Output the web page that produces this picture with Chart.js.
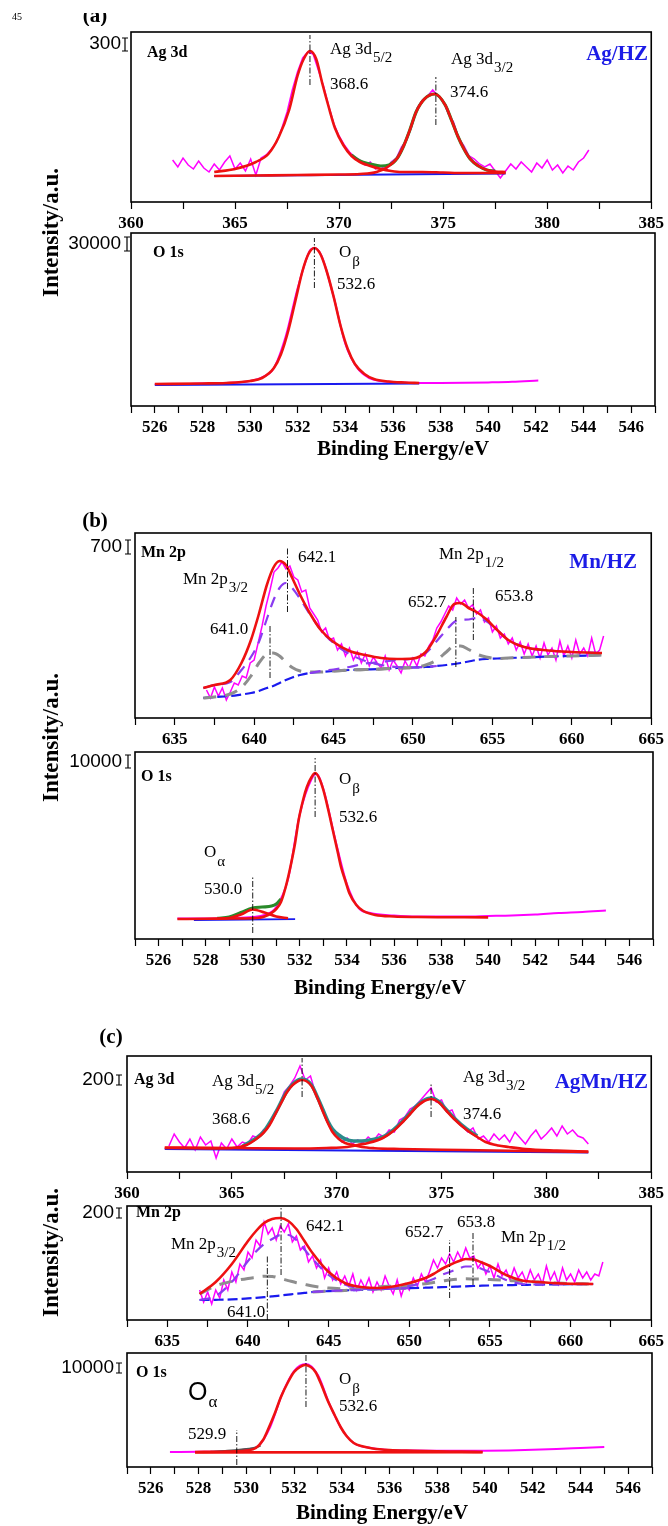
<!DOCTYPE html>
<html><head><meta charset="utf-8">
<script src="https://cdn.jsdelivr.net/npm/chart.js@4.4.1/dist/chart.umd.min.js"></script>
<style>
html,body{margin:0;padding:0;background:#fff;}
#page{position:relative;width:668px;height:1526px;overflow:hidden;background:#fff;}
#page canvas{position:absolute;left:0;}
.t{position:absolute;font-family:'Liberation Serif','Times New Roman',serif;color:#000;white-space:nowrap;line-height:1;text-align:center;}
</style></head><body><div id="page"></div>
<script>
// ---------------- DATA (binding energy in eV, intensity in arbitrary units) ----------------
const AG_RAW_X = [362,362.25,362.5,362.75,363,363.25,363.5,363.75,364,364.25,364.5,364.75,365,365.25,365.5,365.75,366,366.25,366.5,366.75,367,367.25,367.5,367.75,368,368.25,368.5,368.75,369,369.25,369.5,369.75,370,370.25,370.5,370.75,371,371.25,371.5,371.75,372,372.25,372.5,372.75,373,373.25,373.5,373.75,374,374.25,374.5,374.75,375,375.25,375.5,375.75,376,376.25,376.5,376.75,377,377.25,377.5,377.75,378,378.25,378.5,378.75,379,379.25,379.5,379.75,380,380.25,380.5,380.75,381,381.25,381.5,381.75,382];
const MN_RAW_X = [637,637.25,637.5,637.75,638,638.25,638.5,638.75,639,639.25,639.5,639.75,640,640.25,640.5,640.75,641,641.25,641.5,641.75,642,642.25,642.5,642.75,643,643.25,643.5,643.75,644,644.25,644.5,644.75,645,645.25,645.5,645.75,646,646.25,646.5,646.75,647,647.25,647.5,647.75,648,648.25,648.5,648.75,649,649.25,649.5,649.75,650,650.25,650.5,650.75,651,651.25,651.5,651.75,652,652.25,652.5,652.75,653,653.25,653.5,653.75,654,654.25,654.5,654.75,655,655.25,655.5,655.75,656,656.25,656.5,656.75,657,657.25,657.5,657.75,658,658.25,658.5,658.75,659,659.25,659.5,659.75,660,660.25,660.5,660.75,661,661.25,661.5,661.75,662];

// (a) Ag/HZ  Ag 3d
const A1_RAW_Y = [42,35,44,37,33,41,34,30,38,32,40,46,33,39,31,43,27,44,47,53,60,74,90,112,130,144,150,148,132,116,96,78,66,57,50,45,42,37,40,33,36,32,40,44,55,62,76,94,102,106,112,106,101,88,80,64,56,46,43,38,35,38,31,24,31,38,33,40,35,30,39,34,42,32,37,29,36,32,40,44,52];
const A1_COMP1 = [[364,30],[365,33],[366,40],[366.6,48],[367.1,65],[367.6,92],[368,126],[368.3,143],[368.6,151],[368.9,143],[369.2,118],[369.5,95],[369.8,74],[370.2,57],[370.6,46],[371,40],[371.5,36],[372,33],[372.5,31],[373,30],[374,30],[375,29.5],[376,29],[377,29],[378,29]];
const A1_COMP2 = [[364,26],[366,26.5],[368,27],[370,27.5],[371,28],[371.8,30],[372.4,36],[372.8,44],[373.1,56],[373.4,72],[373.7,90],[374.1,103],[374.6,108],[375.1,97],[375.4,82],[375.7,66],[376,53],[376.3,43],[376.7,36],[377.1,32],[377.5,30.5],[378,30]];
const A1_SUM = [[370.6,47],[371,41],[371.5,38],[372,36],[372.4,37],[372.8,44],[373.1,56],[373.4,72],[373.7,90],[374.1,103],[374.6,108],[375.1,97],[375.4,82],[375.7,66],[376,53],[376.3,43],[376.7,36],[377.1,32],[377.5,31]];
const A1_BASE = [[364,26],[378,28.5]];
const A1_MARK_X = [368.6, 374.65];
const A1_MARK_Y = [[117,167],[77,125]];

// (a) Ag/HZ  O 1s
const A2_RAW = [[526,22],[527,22],[528,22.5],[529,23],[530,25],[530.5,28.5],[531,38],[531.5,70],[532,118],[532.5,155],[532.7,158],[533,150],[533.5,110],[534,62],[534.5,38],[535,28],[535.5,25],[536,24],[537,23],[538,23],[539,23.2],[540,23.6],[541,24.2],[542.1,25.5]];
const A2_FIT = [[526,22],[528,22.5],[529,23],[530,25],[530.5,28],[531,38],[531.3,52],[531.6,75],[531.9,105],[532.2,135],[532.45,152],[532.7,158],[532.95,152],[533.2,136],[533.5,110],[533.8,80],[534.1,57],[534.4,42],[534.8,32],[535.2,27],[535.8,24.5],[536.5,23.5],[537.1,23]];
const A2_BASE = [[526,21],[537.1,22.5]];
const A2_MARK_X = [532.7];
const A2_MARK_Y = [[118,168]];

// (b) Mn/HZ  Mn 2p
const B1_RAW_Y = [28,20,31,22,30,18,26,35,33,42,40,55,58,75,92,112,128,146,150,156,149,152,141,138,126,128,110,104,98,86,90,78,80,68,74,62,70,58,66,55,64,52,61,55,50,62,48,58,52,45,57,50,60,52,64,62,72,78,90,96,104,112,108,120,114,118,110,113,104,108,96,100,86,92,80,84,74,80,68,76,64,74,62,72,60,75,63,70,58,77,62,72,60,78,64,70,62,80,64,68,82];
const B1_GRID = [636.8,637.5,638.5,639.2,639.8,640.3,640.8,641.2,641.6,642.0,642.4,642.9,643.5,644.2,645,646,647,648,649,650,650.8,651.5,652.1,652.6,653.0,653.5,654.0,654.6,655.3,656,657,658.5,660,661.9];
const B1_BASE_Y = [20,21,22,23.5,25,27,30,32,35,38,40.5,43,45,46,47,48,48.5,49,50,50.5,51,52,53,54,55,56.5,58,59,59.5,60,60.5,61.5,62,63];
const B1_FIT_Y = [30,33,38,55,78,104,133,150,157,153,140,123,105,88,76,67,63,60,59,59.5,66,83,101,114,115,110,106,99,88,78,71,67.5,66,65];
const B1_P1_Y = [30,33,36,48,61,76,99,117,130,135,130,119,104,88,75,64,57,53,51,50.5,51,52,null,null,null,null,null,null,null,null,null,null,null,null];
const B1_G1_Y = [20,21,24,30.5,42,55,64,65,62,56,50.5,47,46,46,47,48,48.5,49,50,50.5,null,null,null,null,null,null,null,null,null,null,null,null,null,null];
const B1_P2_Y = [null,null,null,null,null,null,null,null,null,null,null,null,45,47,48.5,51,54.5,56,58,59.5,65,77,88,96,98,98.5,100,97,88,78,71,67.5,66,65];
const B1_G2_Y = [null,null,null,null,null,null,null,null,null,null,null,null,null,null,47,48,48.5,49,50,50.5,53,58,66,72,72,68.5,64,61,59.5,60,60.5,61.5,62,63];
const B1_MARK_X = [641.0, 642.1, 652.7, 653.8];
const B1_MARK_Y = [[40,93],[106,171],[51,101],[78,131]];

// (b) Mn/HZ  O 1s
const B2_RAW = [[526.8,20.5],[528,20.5],[529,21],[530,22],[530.5,24],[531,32],[531.5,60],[532,125],[532.5,160],[532.7,165],[533,150],[533.5,100],[534,55],[534.5,31],[535,26],[536,23.5],[537,22.5],[538,22.5],[539,22.5],[540,23],[541,23.5],[542,24.5],[543,26],[544,27],[545,28.5]];
const B2_FIT = [[526.8,20],[528,20.2],[529,20.5],[530,20.8],[530.5,22.5],[531,30],[531.2,37],[531.4,52],[531.6,72],[531.8,96],[531.95,119],[532.15,140],[532.3,152],[532.5,162],[532.65,166],[532.8,162],[533,149],[533.2,130],[533.4,109],[533.6,88],[533.75,72],[533.95,57],[534.1,46],[534.4,34],[534.7,28],[535.2,24],[536,22.5],[537,22],[538,21.8],[539,21.7],[540,21.6]];
const B2_ALPHA = [[528.5,20.3],[529,21],[529.5,24.5],[530,29.5],[530.5,26.5],[531,22.5],[531.5,20.8]];
const B2_SUM = [[528.5,20.6],[529,22],[529.5,26.5],[530,31],[530.4,32],[530.8,33],[531,35],[531.2,40]];
const B2_BASE = [[527.5,19],[531.8,19.8]];
const B2_MARK_X = [530.0, 532.65];
const B2_MARK_Y = [[6,62],[122,181]];

// (c) AgMn/HZ  Ag 3d
const C1_RAW_Y = [26,38,30,24,33,22,35,27,31,14,29,23,33,25,30,28,36,34,42,46,58,66,80,86,94,106,92,96,78,68,52,44,38,30,34,28,32,29,35,31,38,35,42,40,52,55,63,66,72,78,84,70,72,60,62,50,46,40,44,33,36,30,38,32,37,30,40,34,28,36,42,33,38,44,36,46,38,42,36,34,28];
const C1_COMP1 = [[361.8,24],[363,23.8],[364,23.6],[365,24],[365.7,27],[366.1,32],[366.5,39],[366.8,47],[367.1,59],[367.4,71],[367.6,79],[367.9,87],[368.35,92],[368.8,86],[369.1,73],[369.35,60],[369.6,48],[369.8,40],[370.1,33],[370.4,29],[370.8,27],[371.2,25],[371.8,23.8],[373,23],[376,22],[379,21],[382,20]];
const C1_COMP2 = [[361.8,24.5],[365,24],[368,23.5],[369.5,24],[370.5,25],[371,27],[371.5,29],[372.2,34],[372.7,41],[373.1,49],[373.5,58],[373.8,65],[374.1,70],[374.5,73],[374.9,69],[375.2,62],[375.6,53],[376.2,42],[376.7,35],[377.1,30],[377.7,26.5],[378.2,25],[379,23],[380.5,21.5],[382,20.5]];
const C1_SUM = [[365.5,25.5],[366.5,40],[367.1,60],[367.6,80],[367.9,88],[368.35,93],[368.8,87],[369.1,74],[369.35,62],[369.6,50],[369.8,43],[370.1,37],[370.4,33],[370.8,31],[371.2,31],[371.6,32],[372.2,35],[372.7,42],[373.1,50],[373.5,59],[373.8,66],[374.1,71],[374.5,74],[374.9,70],[375.2,63],[375.6,54],[376.2,43],[376.7,36]];
const C1_BASE = [[361.8,23],[382,19.5]];
const C1_MARK_X = [368.35, 374.5];
const C1_MARK_Y = [[75,114],[55,89]];

// (c) AgMn/HZ  Mn 2p
const C2_RAW_Y = [30,18,28,16,30,22,40,30,48,38,56,50,68,62,80,74,98,86,92,80,94,88,96,78,84,70,74,58,64,52,60,42,52,40,48,36,44,34,46,30,40,32,42,28,38,30,44,34,26,40,24,36,30,42,34,46,38,48,60,52,62,56,66,58,68,60,72,62,64,52,58,46,54,42,56,44,50,40,52,42,48,38,50,40,46,36,54,40,48,36,52,40,46,38,50,42,48,40,46,44,58];
const C2_GRID = [637,638,639,640,640.5,641,641.5,642,642.5,643,643.5,644,645,646,647,648,649,650,651,651.5,652,652.5,653,653.5,654,654.5,655,656,657,658,659.5,661.4];
const C2_BASE_Y = [20,20.2,20.6,21.6,22.2,22.8,23.6,24.5,25.4,26.3,27.1,28,28.9,29.6,30.2,30.9,31.4,31.8,32.3,32.6,32.8,33.1,33.4,33.7,34,34.3,34.5,34.8,35.1,35.4,35.7,36];
const C2_FIT_Y = [26,38,56,79,89,97,101,102,99,91,79,67,48,37,33,32,33.5,37,42,46,51,55,58.5,61,60.5,57.5,54,45,39.5,38,36.5,36];
const C2_P1_Y = [20,24,38,59,68.5,76,81,85,85,80,70.5,61,45,35.5,31.5,31,31.4,31.8,null,null,null,null,null,null,null,null,null,null,null,null,null,null];
const C2_G1_Y = [26,34.2,38.6,41.6,42.7,43.8,43.6,41.5,39.4,37.3,35.6,34,31.9,31.1,30.7,30.9,31.4,31.8,null,null,null,null,null,null,null,null,null,null,null,null,null,null];
const C2_P2_Y = [null,null,null,null,null,null,null,null,null,null,null,28,28.9,29.6,30.2,30.9,31.4,34,38,41,45,48,51,53.5,53.5,51,48,40,36,35.5,35.7,36];
const C2_G2_Y = [null,null,null,null,null,null,null,null,null,null,null,28,29,29.6,31.2,32.9,33.9,34.8,36.3,37.6,38.8,40.1,40.9,41.2,41,40.8,40.5,39.8,38.6,37.9,36.7,36];
const C2_MARK_X = [641.2, 642.05, 652.5, 653.95];
const C2_MARK_Y = [[0,65],[45,113],[22,80],[35,88]];

// (c) AgMn/HZ  O 1s
const C3_RAW = [[526.8,15],[528,15.2],[529,15.5],[529.5,16],[530,17.5],[530.5,21],[531,40],[531.5,73],[532,96],[532.5,103],[533,92],[533.5,62],[534,38],[534.5,24],[535.2,19],[536,17],[537,16.5],[538,16.3],[539,16.2],[540,16.3],[541,16.6],[542,17.2],[543,18],[544,19],[545,20]];
const C3_FIT = [[527.85,15],[529,15.3],[529.5,15.6],[530,16.5],[530.4,19],[530.7,27],[530.9,37],[531.2,54],[531.45,70],[531.75,85],[532,95],[532.25,100],[532.45,102],[532.7,100],[532.9,95],[533.15,82],[533.4,67],[533.7,52],[533.95,40],[534.2,31],[534.5,24],[534.9,20.5],[535.3,18.5],[536,17],[537,16.3],[538,15.8],[539,15.4],[539.9,15]];
const C3_LINE = [[527.85,14.6],[539.9,14.8]];
const C3_ALPHA = [[528.5,15.3],[529.2,16.3],[529.8,17.6],[530.3,19.2],[530.6,21]];
const C3_MARK_X = [529.6, 532.5];
const C3_MARK_Y = [[2,37],[60,116]];

// ---------------- helpers ----------------
const SERIF = "'Liberation Serif','Times New Roman',serif";
const SANS = "'Liberation Sans',Arial,sans-serif";
const BLUE_T = '#1c1ce6';
const xy = (X, Y) => X.map((x, i) => ({x, y: Y[i]}));
const pr = (P) => P.map(p => ({x: p[0], y: p[1]}));
const mk = (MX, MY) => MX.map((x, i) => [{x, y: MY[i][0]}, {x, y: MY[i][1]}]);

const STYLE = {
  raw:   {borderColor:'#ff00ff', borderWidth:1.5, tension:0},
  rawS:  {borderColor:'#ff00ff', borderWidth:2, cubicInterpolationMode:'monotone'},
  red:   {borderColor:'#ee1111', borderWidth:2.6, cubicInterpolationMode:'monotone'},
  green: {borderColor:'#2a8a2a', borderWidth:3.2, cubicInterpolationMode:'monotone'},
  teal:  {borderColor:'#2a8c8c', borderWidth:3.6, cubicInterpolationMode:'monotone'},
  base:  {borderColor:'#1a1aee', borderWidth:1.8, tension:0},
  baseD: {borderColor:'#1a1aee', borderWidth:2.2, borderDash:[10,4], cubicInterpolationMode:'monotone'},
  purple:{borderColor:'#8a3cf0', borderWidth:2.2, borderDash:[11,8], cubicInterpolationMode:'monotone'},
  gray:  {borderColor:'#8e8e8e', borderWidth:3, borderDash:[13,9], cubicInterpolationMode:'monotone'},
  dark:  {borderColor:'#555555', borderWidth:1.8, cubicInterpolationMode:'monotone'},
  mark:  {borderColor:'#000000', borderWidth:0.9, borderDash:[6,2,1.5,2], tension:0}
};

const F17 = '17px ' + SERIF, FB16 = 'bold 16px ' + SERIF, FB21 = 'bold 21px ' + SERIF;

const PANELS = [
  {box:[131,655,32,202], xr:[360,385], minor:2.5, major:5,
   series:[['raw', xy(AG_RAW_X, A1_RAW_Y)], ['base', pr(A1_BASE)], ['green', pr(A1_SUM)], ['red', pr(A1_COMP2)], ['red', pr(A1_COMP1)]],
   marks: mk(A1_MARK_X, A1_MARK_Y),
   scale:{t:'300', x:121, y:44, bx:125, by:[38,51]},
   labels:[{t:'Ag 3d', x:147, y:53, f:FB16}, {t:'Ag 3d', sub:'5/2', x:330, y:50}, {t:'368.6', x:330, y:85},
           {t:'Ag 3d', sub:'3/2', x:451, y:60}, {t:'374.6', x:450, y:93}, {t:'Ag/HZ', x:648, y:55, f:FB21, c:BLUE_T, a:'right'}]},
  {box:[131,655,233,406], xr:[525,547], minor:1, major:2,
   series:[['rawS', pr(A2_RAW)], ['base', pr(A2_BASE)], ['red', pr(A2_FIT)]],
   marks: mk(A2_MARK_X, A2_MARK_Y),
   scale:{t:'30000', x:121, y:244, bx:127, by:[237,251]},
   labels:[{t:'O 1s', x:153, y:253, f:FB16}, {t:'O', sub:'\u03b2', x:339, y:253, sd:9}, {t:'532.6', x:337, y:285}]},
  {box:[135,653,533,718], xr:[632.5,665], minor:2.5, major:5,
   series:[['raw', xy(MN_RAW_X, B1_RAW_Y)], ['baseD', xy(B1_GRID, B1_BASE_Y)], ['gray', xy(B1_GRID, B1_G1_Y)], ['gray', xy(B1_GRID, B1_G2_Y)],
           ['purple', xy(B1_GRID, B1_P1_Y)], ['purple', xy(B1_GRID, B1_P2_Y)], ['red', xy(B1_GRID, B1_FIT_Y)]],
   marks: mk(B1_MARK_X, B1_MARK_Y),
   scale:{t:'700', x:122, y:547, bx:128, by:[540,554]},
   labels:[{t:'Mn 2p', x:141, y:553, f:FB16}, {t:'642.1', x:298, y:558}, {t:'Mn 2p', sub:'3/2', x:183, y:580}, {t:'641.0', x:210, y:630},
           {t:'Mn 2p', sub:'1/2', x:439, y:555}, {t:'652.7', x:408, y:603}, {t:'653.8', x:495, y:597},
           {t:'Mn/HZ', x:637, y:563, f:FB21, c:BLUE_T, a:'right'}]},
  {box:[135,653,752,939], xr:[525,547], minor:1, major:2,
   series:[['rawS', pr(B2_RAW)], ['base', pr(B2_BASE)], ['green', pr(B2_SUM)], ['red', pr(B2_ALPHA)], ['red', pr(B2_FIT)]],
   marks: mk(B2_MARK_X, B2_MARK_Y),
   scale:{t:'10000', x:122, y:762, bx:128, by:[755,768]},
   labels:[{t:'O 1s', x:141, y:777, f:FB16}, {t:'O', sub:'\u03b2', x:339, y:780, sd:9}, {t:'532.6', x:339, y:818},
           {t:'O', sub:'\u03b1', x:204, y:853, sd:9}, {t:'530.0', x:204, y:890}]},
  {box:[127,652,1056,1172], xr:[360,385], minor:2.5, major:5,
   series:[['raw', xy(AG_RAW_X, C1_RAW_Y)], ['base', pr(C1_BASE)], ['teal', pr(C1_SUM)], ['red', pr(C1_COMP2)], ['red', pr(C1_COMP1)]],
   marks: mk(C1_MARK_X, C1_MARK_Y),
   scale:{t:'200', x:114, y:1080, bx:119, by:[1075,1085]},
   labels:[{t:'Ag 3d', x:134, y:1080, f:FB16}, {t:'Ag 3d', sub:'5/2', x:212, y:1082}, {t:'368.6', x:212, y:1120},
           {t:'Ag 3d', sub:'3/2', x:463, y:1078}, {t:'374.6', x:463, y:1115}, {t:'AgMn/HZ', x:648, y:1083, f:FB21, c:BLUE_T, a:'right'}]},
  {box:[127,652,1206,1320], xr:[632.5,665], minor:2.5, major:5,
   series:[['raw', xy(MN_RAW_X, C2_RAW_Y)], ['baseD', xy(C2_GRID, C2_BASE_Y)], ['gray', xy(C2_GRID, C2_G1_Y)], ['gray', xy(C2_GRID, C2_G2_Y)],
           ['purple', xy(C2_GRID, C2_P1_Y)], ['purple', xy(C2_GRID, C2_P2_Y)], ['red', xy(C2_GRID, C2_FIT_Y)]],
   marks: mk(C2_MARK_X, C2_MARK_Y),
   scale:{t:'200', x:114, y:1213, bx:119, by:[1208,1218]},
   labels:[{t:'Mn 2p', x:136, y:1213, f:FB16}, {t:'Mn 2p', sub:'3/2', x:171, y:1245}, {t:'642.1', x:306, y:1227}, {t:'641.0', x:227, y:1313},
           {t:'652.7', x:405, y:1233}, {t:'653.8', x:457, y:1223}, {t:'Mn 2p', sub:'1/2', x:501, y:1238}]},
  {box:[127,652,1353,1467], xr:[525,547], minor:1, major:2,
   series:[['rawS', pr(C3_RAW)], ['red', pr(C3_LINE)], ['dark', pr(C3_ALPHA)], ['red', pr(C3_FIT)]],
   marks: mk(C3_MARK_X, C3_MARK_Y),
   scale:{t:'10000', x:114, y:1368, bx:119, by:[1363,1373]},
   labels:[{t:'O 1s', x:136, y:1373, f:FB16}, {t:'O', sub:'\u03b1', x:188, y:1393, f:'25px ' + SANS, sf:'17px ' + SERIF, sd:10},
           {t:'O', sub:'\u03b2', x:339, y:1380, sd:9}, {t:'532.6', x:339, y:1407}, {t:'529.9', x:188, y:1435}]}
];

// ---------------- drawing ----------------
const deco = {
  id: 'deco',
  afterDatasetsDraw(chart, args, o) {
    const ctx = chart.ctx, a = chart.chartArea, oy = o.top;
    ctx.save();
    ctx.strokeStyle = '#000'; ctx.lineWidth = 1.6; ctx.setLineDash([]);
    ctx.strokeRect(a.left, a.top, a.right - a.left, a.bottom - a.top);
    ctx.textBaseline = 'middle';
    for (const L of o.labels) {
      ctx.font = L.f || F17; ctx.fillStyle = L.c || '#000';
      ctx.textAlign = L.a === 'right' ? 'right' : 'left';
      ctx.fillText(L.t, L.x, L.y - oy);
      if (L.sub) {
        const w = ctx.measureText(L.t).width;
        ctx.font = L.sf || ('15px ' + SERIF);
        ctx.textAlign = 'left';
        ctx.fillText(L.sub, L.x + w + 1, L.y - oy + (L.sd || 8));
      }
    }
    const s = o.scale;
    ctx.fillStyle = '#000'; ctx.font = '19px ' + SANS; ctx.textAlign = 'right';
    ctx.fillText(s.t, s.x, s.y - oy);
    ctx.lineWidth = 1.2; ctx.beginPath();
    ctx.moveTo(s.bx, s.by[0] - oy); ctx.lineTo(s.bx, s.by[1] - oy);
    ctx.moveTo(s.bx - 3, s.by[0] - oy); ctx.lineTo(s.bx + 3, s.by[0] - oy);
    ctx.moveTo(s.bx - 3, s.by[1] - oy); ctx.lineTo(s.bx + 3, s.by[1] - oy);
    ctx.stroke();
    ctx.restore();
  }
};

const page = document.getElementById('page');
const PAD_TOP = 30, AXIS_H = 45;

PANELS.forEach(p => {
  const [L, R, T, B] = p.box;
  const boxH = B - T, top = T - PAD_TOP, H = boxH + PAD_TOP + AXIS_H;
  const cv = document.createElement('canvas');
  cv.width = 668; cv.height = H;
  cv.style.top = top + 'px'; cv.style.width = '668px'; cv.style.height = H + 'px';
  page.appendChild(cv);
  const list = p.series.map(([k, d]) => ({k, d})).concat(p.marks.map(d => ({k: 'mark', d})));
  const datasets = list.map((s, i) => Object.assign({
    data: s.d, pointRadius: 0, pointHoverRadius: 0, fill: false, spanGaps: false, order: list.length - i
  }, STYLE[s.k]));
  new Chart(cv, {
    type: 'line',
    data: {datasets},
    options: {
      responsive: false, animation: false, devicePixelRatio: 1, events: [],
      layout: {padding: {left: L, right: 668 - R, top: PAD_TOP, bottom: 0}},
      plugins: {legend: {display: false}, tooltip: {enabled: false},
                deco: {labels: p.labels, scale: p.scale, top: top}},
      scales: {
        x: {type: 'linear', min: p.xr[0], max: p.xr[1],
            afterFit: (sc) => { sc.height = AXIS_H; },
            border: {display: false},
            grid: {drawOnChartArea: false, drawTicks: true, tickLength: 7, tickWidth: 1.2, tickColor: '#000'},
            ticks: {stepSize: p.minor, maxTicksLimit: 100, autoSkip: false, maxRotation: 0, minRotation: 0, padding: 4,
                    color: '#000', font: {family: SERIF, size: 17, weight: 'bold'},
                    callback: (v) => { const r = v / p.major; return Math.abs(r - Math.round(r)) < 1e-6 ? String(Math.round(v)) : ''; }}},
        y: {display: false, min: 0, max: boxH}
      }
    },
    plugins: [deco]
  });
});

// page texts
function addText(txt, cx, cy, size, bold, rot) {
  const d = document.createElement('div');
  d.className = 't'; d.textContent = txt;
  d.style.fontSize = size + 'px'; d.style.fontWeight = bold ? 'bold' : 'normal';
  d.style.width = '260px'; d.style.height = size + 'px';
  d.style.left = (cx - 130) + 'px'; d.style.top = (cy - size / 2) + 'px';
  if (rot) d.style.transform = 'rotate(-90deg)';
  page.appendChild(d);
}
addText('45', 17, 17, 10, false, false);
(function(){ const w = document.createElement('div');
  w.style.cssText = 'position:absolute;left:70px;top:13px;width:50px;height:13px;overflow:hidden;';
  const s = document.createElement('div'); s.className = 't'; s.textContent = '(a)';
  s.style.cssText += 'font-size:21px;font-weight:bold;left:0;top:-8px;width:50px;';
  w.appendChild(s); page.appendChild(w); })();
addText('(b)', 95, 520, 21, true, false);
addText('(c)', 111, 1036, 21, true, false);
addText('Intensity/a.u.', 50, 232, 23, true, true);
addText('Intensity/a.u.', 50, 737, 23, true, true);
addText('Intensity/a.u.', 50, 1252, 23, true, true);
addText('Binding Energy/eV', 403, 448, 21, true, false);
addText('Binding Energy/eV', 380, 987, 21, true, false);
addText('Binding Energy/eV', 382, 1512, 21, true, false);
</script></body></html>
